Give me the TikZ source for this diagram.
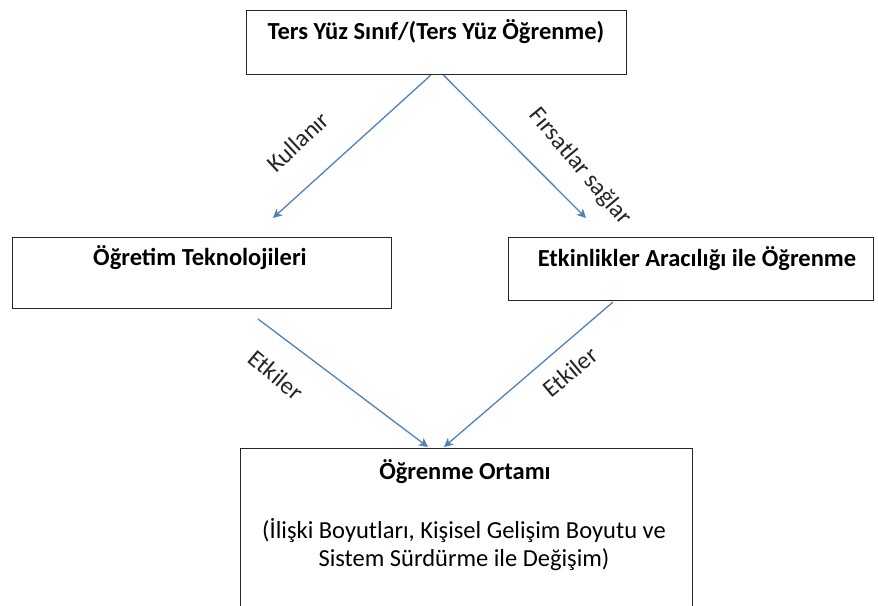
\documentclass[tikz,border=0pt]{standalone}
\usepackage{fontspec}
\setmainfont{Carlito}
\usetikzlibrary{arrows.meta}
\definecolor{arrowblue}{HTML}{4F81BD}
\begin{document}
\begin{tikzpicture}[x=1pt,y=-1pt,
  box/.style={draw=black!85, line width=1.3pt, inner sep=0pt, anchor=north west},
  title/.style={font=\fontsize{24.5}{29}\selectfont\bfseries, inner sep=0pt},
  body/.style={font=\fontsize{24.5}{28}\selectfont, inner sep=0pt, align=center},
  lbl/.style={font=\fontsize{24.5}{29}\selectfont, inner sep=0pt, text=black!85},
  arr/.style={draw=arrowblue, line width=1.3pt, -{Stealth[length=9pt,width=9pt,inset=2.5pt]}}]
\clip (0,0) rectangle (878,605);
% boxes
\node[box, minimum width=380pt, minimum height=64pt] (top) at (246,10) {};
\node[box, minimum width=379pt, minimum height=71pt] (left) at (12,237) {};
\node[box, minimum width=365pt, minimum height=63pt] (right) at (508,237) {};
\node[box, minimum width=452pt, minimum height=190pt] (bottom) at (240,448) {};
% texts
\node[title] (toptext) at (436,32) {Ters Yüz Sınıf/(Ters Yüz Öğrenme)};
\node[title] (lefttext) at (200,258) {Öğretim Teknolojileri};
\node[title] (righttext) at (697,259) {Etkinlikler Aracılığı ile Öğrenme};
\node[title] (bottomtext) at (465,472) {Öğrenme Ortamı};
\node[body] (bottombody) at (464,545) {(İlişki Boyutları, Kişisel Gelişim Boyutu ve\\Sistem Sürdürme ile Değişim)};
% arrow free ends
\coordinate (e1) at (273,218);
\coordinate (e2) at (586,218);
\coordinate (s3) at (258,319);
\coordinate (s4) at (613,302);
\coordinate (e3) at (428,447);
\coordinate (e4) at (444,447);
% arrows
\draw[arr] ([xshift=-6pt]top.south) -- (e1);
\draw[arr] ([xshift=7pt]top.south) -- (e2);
\draw[arr] (s3) -- (e3);
\draw[arr] (s4) -- (e4);
% labels
\node[lbl, rotate=43] (l1) at (298,142) {Kullanır};
\node[lbl, rotate=-50] (l2) at (580,167) {Fırsatlar sağlar};
\node[lbl, rotate=-40] (l3) at (276,375) {Etkiler};
\node[lbl, rotate=40] (l4) at (570,372) {Etkiler};
\end{tikzpicture}
\end{document}
